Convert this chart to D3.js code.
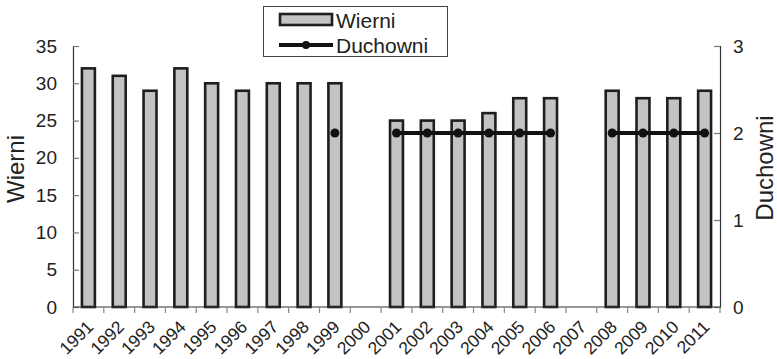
<!DOCTYPE html>
<html><head><meta charset="utf-8">
<script src="https://cdn.jsdelivr.net/npm/d3@7"></script>
<style>body{margin:0;background:#fff}svg{display:block;font-family:"Liberation Sans",Arial,sans-serif}</style>
</head><body><svg id="c" width="777" height="359"></svg>
<script>
const years = ["1991","1992","1993","1994","1995","1996","1997","1998","1999","2000","2001","2002","2003","2004","2005","2006","2007","2008","2009","2010","2011"];
const wierni = [32,31,29,32,30,29,30,30,30,null,25,25,25,26,28,28,null,29,28,28,29];
const duchowni = [null,null,null,null,null,null,null,null,2,null,2,2,2,2,2,2,null,2,2,2,2];
const leftTicks = [0,5,10,15,20,25,30,35];
const rightTicks = [0,1,2,3];

const svg = d3.select("#c");
const L = 73, R = 720, T = 46, B = 307;
const x = d3.scaleBand().domain(years).range([L, R]).padding(0);
const yL = d3.scaleLinear().domain([0,35]).range([B, T]);
const yR = d3.scaleLinear().domain([0,3]).range([B, T]);
const bw = x.bandwidth()*0.42;

// bars
svg.append("g").selectAll("rect").data(years.map((y,i)=>({y, v:wierni[i]})).filter(d=>d.v!=null))
  .enter().append("rect")
  .attr("x", d=>x(d.y)+x.bandwidth()/2-bw/2)
  .attr("y", d=>yL(d.v))
  .attr("width", bw)
  .attr("height", d=>B-yL(d.v))
  .attr("fill","#c3c3c3").attr("stroke","#1e1e1e").attr("stroke-width",2.6);

// axes
const gL = svg.append("g").attr("transform",`translate(${L},0)`)
  .call(d3.axisLeft(yL).tickValues(leftTicks).tickSize(-6).tickPadding(16));
const gR = svg.append("g").attr("transform",`translate(${R},0)`)
  .call(d3.axisRight(yR).tickValues(rightTicks).tickSize(-6).tickPadding(13).tickFormat(d3.format("d")));
[gL,gR].forEach(g=>{
  g.select(".domain").attr("stroke","#333").attr("stroke-width",1.2);
  g.selectAll(".tick line").attr("stroke","#777").attr("stroke-width",1.2);
  g.selectAll("text").attr("font-size",19).attr("fill","#222").attr("font-family","Liberation Sans, Arial, sans-serif");
});

// bottom axis
const gB = svg.append("g");
gB.append("line").attr("x1",L).attr("x2",R).attr("y1",B).attr("y2",B).attr("stroke","#333").attr("stroke-width",1.2);
gB.selectAll("line.t").data(years.concat(["__end"])).enter().append("line")
  .attr("x1",(d,i)=>i<years.length?x(d):R).attr("x2",(d,i)=>i<years.length?x(d):R)
  .attr("y1",B).attr("y2",B+6).attr("stroke","#888").attr("stroke-width",1.2);
gB.selectAll("text").data(years).enter().append("text")
  .attr("transform",d=>`translate(${x(d)+x.bandwidth()/2+6},${B+21}) rotate(-45)`)
  .attr("text-anchor","end").attr("font-size",17.5).attr("fill","#222").text(d=>d);

// line
const pts = years.map((y,i)=>({y, v:duchowni[i]}));
const line = d3.line().defined(d=>d.v!=null).x(d=>x(d.y)+x.bandwidth()/2).y(d=>yR(d.v));
svg.append("path").attr("d", line(pts)).attr("fill","none").attr("stroke","#111").attr("stroke-width",4);
svg.append("g").selectAll("circle").data(pts.filter(d=>d.v!=null)).enter().append("circle")
  .attr("cx",d=>x(d.y)+x.bandwidth()/2).attr("cy",d=>yR(d.v)).attr("r",4.5).attr("fill","#111");

// axis titles
svg.append("text").attr("transform","translate(24,169) rotate(-90)").attr("text-anchor","middle")
  .attr("font-size",24).attr("fill","#222").text("Wierni");
svg.append("text").attr("transform","translate(773,168) rotate(-90)").attr("text-anchor","middle")
  .attr("font-size",24).attr("fill","#222").text("Duchowni");

// legend
const lg = svg.append("g");
lg.append("rect").attr("x",263.5).attr("y",6.5).attr("width",184).attr("height",50).attr("fill","#fff").attr("stroke","#444").attr("stroke-width",1);
lg.append("rect").attr("x",280).attr("y",14).attr("width",52).attr("height",11).attr("fill","#c3c3c3").attr("stroke","#1e1e1e").attr("stroke-width",2.6);
lg.append("line").attr("x1",279).attr("x2",333).attr("y1",45).attr("y2",45).attr("stroke","#111").attr("stroke-width",4);
lg.append("circle").attr("cx",306).attr("cy",45).attr("r",4).attr("fill","#111");
lg.append("text").attr("x",336).attr("y",28).attr("font-size",21).attr("fill","#222").text("Wierni");
lg.append("text").attr("x",336).attr("y",53).attr("font-size",21).attr("fill","#222").text("Duchowni");
</script></body></html>
